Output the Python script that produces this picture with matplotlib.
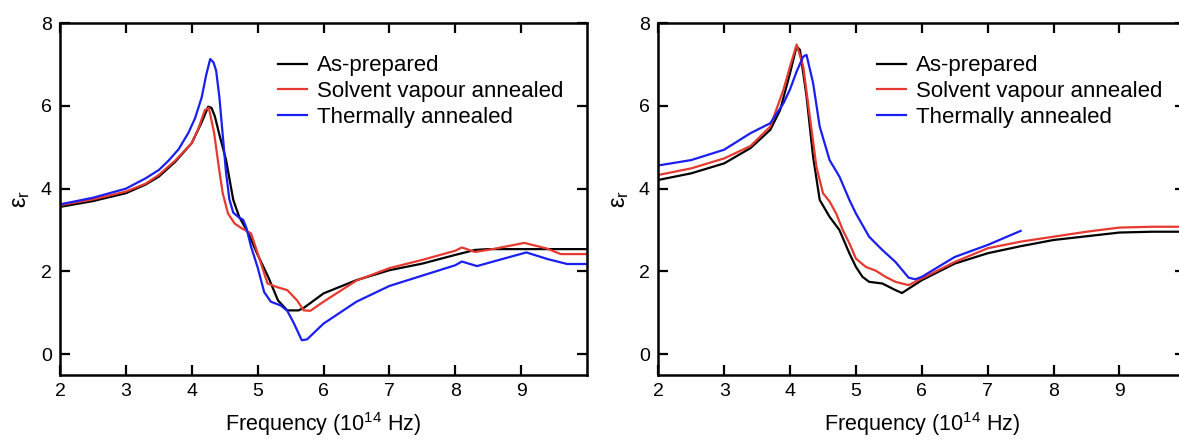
import matplotlib
matplotlib.use("Agg")
import matplotlib.pyplot as plt

plt.rcParams['font.family'] = ['Liberation Sans', 'DejaVu Sans']
plt.rcParams['mathtext.fontset'] = 'custom'
plt.rcParams['mathtext.rm'] = 'Liberation Sans'

# ---- Left panel: permittivity spectra ----
left_ap_f = [2.0, 2.5, 3.0, 3.3, 3.5, 3.75, 4.0, 4.15, 4.25, 4.3, 4.35, 4.42, 4.52, 4.63, 4.72,
             4.86, 4.99, 5.16, 5.31, 5.45, 5.62, 5.7, 6.0, 6.5, 7.0, 7.5, 8.0, 8.3, 8.5, 9.0, 10.0]
left_ap_e = [3.56, 3.7, 3.89, 4.1, 4.29, 4.65, 5.1, 5.6, 5.98, 5.95, 5.75, 5.3, 4.7, 3.73, 3.32,
             2.92, 2.44, 1.87, 1.3, 1.06, 1.06, 1.12, 1.47, 1.79, 2.03, 2.19, 2.4, 2.52, 2.54, 2.54, 2.54]

left_sva_f = [2.0, 2.5, 3.0, 3.3, 3.5, 3.75, 4.0, 4.1, 4.2, 4.26, 4.34, 4.41, 4.47, 4.55, 4.65,
              4.75, 4.9, 5.0, 5.15, 5.3, 5.45, 5.6, 5.7, 5.8, 6.0, 6.5, 7.0, 7.5, 8.0, 8.1,
              8.3, 8.6, 9.05, 9.4, 9.6, 10.0]
left_sva_e = [3.6, 3.74, 3.93, 4.12, 4.33, 4.68, 5.1, 5.45, 5.9, 5.95, 5.34, 4.53, 3.89, 3.4, 3.16,
              3.05, 2.92, 2.44, 1.71, 1.62, 1.55, 1.3, 1.06, 1.05, 1.27, 1.78, 2.08, 2.28, 2.5, 2.58,
              2.47, 2.55, 2.69, 2.55, 2.42, 2.42]

left_ta_f = [2.0, 2.5, 3.0, 3.3, 3.5, 3.65, 3.8, 3.95, 4.05, 4.15, 4.22, 4.28, 4.33, 4.37, 4.42,
             4.47, 4.52, 4.57, 4.63, 4.72, 4.78, 4.83, 4.9, 5.0, 5.1, 5.2, 5.35, 5.45, 5.55, 5.67,
             5.75, 6.0, 6.5, 7.0, 7.5, 8.0, 8.1, 8.33, 8.6, 9.08, 9.4, 9.7, 10.0]
left_ta_e = [3.62, 3.78, 4.0, 4.25, 4.45, 4.68, 4.95, 5.35, 5.7, 6.2, 6.75, 7.13, 7.05, 6.85, 6.2,
             5.3, 4.4, 3.75, 3.42, 3.3, 3.25, 3.05, 2.6, 2.1, 1.5, 1.27, 1.18, 1.05, 0.75, 0.34,
             0.36, 0.74, 1.27, 1.65, 1.9, 2.15, 2.24, 2.13, 2.25, 2.46, 2.3, 2.18, 2.18]

# ---- Right panel ----
right_ap_f = [2.0, 2.5, 3.0, 3.4, 3.7, 3.85, 4.0, 4.1, 4.15, 4.25, 4.35, 4.45, 4.6, 4.75, 4.9,
              5.0, 5.1, 5.2, 5.4, 5.6, 5.7, 6.0, 6.5, 7.0, 7.5, 8.0, 8.5, 9.0, 9.5, 10.0]
right_ap_e = [4.21, 4.37, 4.61, 4.98, 5.42, 5.9, 6.79, 7.44, 7.35, 6.23, 4.77, 3.73, 3.32, 3.0, 2.44,
              2.11, 1.87, 1.75, 1.71, 1.55, 1.48, 1.79, 2.19, 2.44, 2.61, 2.76, 2.85, 2.94, 2.96, 2.96]

right_sva_f = [2.0, 2.5, 3.0, 3.4, 3.7, 3.9, 4.0, 4.1, 4.2, 4.3, 4.4, 4.5, 4.6, 4.7, 4.8,
               4.9, 5.0, 5.15, 5.3, 5.45, 5.6, 5.8, 6.0, 6.5, 7.0, 7.5, 8.0, 8.5, 9.0, 9.5, 10.0]
right_sva_e = [4.33, 4.49, 4.73, 5.03, 5.5, 6.39, 6.95, 7.48, 6.95, 5.74, 4.53, 3.89, 3.69, 3.4, 3.0,
               2.68, 2.31, 2.11, 2.02, 1.87, 1.75, 1.67, 1.83, 2.23, 2.56, 2.72, 2.84, 2.96, 3.06, 3.08, 3.08]

right_ta_f = [2.0, 2.5, 3.0, 3.4, 3.7, 3.9, 4.0, 4.1, 4.2, 4.25, 4.35, 4.45, 4.6, 4.75, 4.9,
              5.0, 5.2, 5.4, 5.6, 5.8, 5.9, 6.0, 6.5, 7.0, 7.5]
right_ta_e = [4.56, 4.69, 4.94, 5.34, 5.58, 6.06, 6.4, 6.83, 7.19, 7.23, 6.55, 5.5, 4.69, 4.29, 3.73,
              3.4, 2.84, 2.52, 2.23, 1.85, 1.81, 1.87, 2.35, 2.64, 2.98]

series_labels = ['As-prepared', 'Solvent vapour annealed', 'Thermally annealed']
series_colors = ['#000000', '#e6392f', '#1a1ef0']
x_ticks = [2, 3, 4, 5, 6, 7, 8, 9]
y_ticks = [0, 2, 4, 6, 8]

W, H = 1179, 446
fig = plt.figure(figsize=(W / 100, H / 100), dpi=100)

panels = [
    (60, [(left_ap_f, left_ap_e), (left_sva_f, left_sva_e), (left_ta_f, left_ta_e)], 0.4137),
    (658.3, [(right_ap_f, right_ap_e), (right_sva_f, right_sva_e), (right_ta_f, right_ta_e)], 0.415),
]

ax_w, ax_h = 527, 352
for left_px, curves, leg_x in panels:
    ax = fig.add_axes([left_px / W, (H - 375) / H, ax_w / W, ax_h / H])
    for (f, e), lab, col in zip(curves, series_labels, series_colors):
        ax.plot(f, e, color=col, lw=1.6, label=lab)
    ax.set_xlim(2, 10)
    ax.set_ylim(-0.5, 8)
    ax.set_xticks(x_ticks)
    ax.set_yticks(y_ticks)
    ax.tick_params(direction='in', length=7, width=1.6, top=True, right=True,
                   labelsize=14, pad=6)
    for sp in ax.spines.values():
        sp.set_linewidth(1.8)
    ax.set_xlabel(r'Frequency (10$^{\mathregular{14}}$ Hz)', fontsize=15.5, labelpad=7)
    ax.set_ylabel(r'$\mathregular{\varepsilon_r}$', fontsize=17, labelpad=6)
    ax.legend(loc='upper left', bbox_to_anchor=(leg_x, 0.908), frameon=False,
              fontsize=16, borderpad=0, borderaxespad=0, handlelength=1.3,
              handletextpad=0.45, labelspacing=0.22)

fig.savefig('out.png', dpi=100)
